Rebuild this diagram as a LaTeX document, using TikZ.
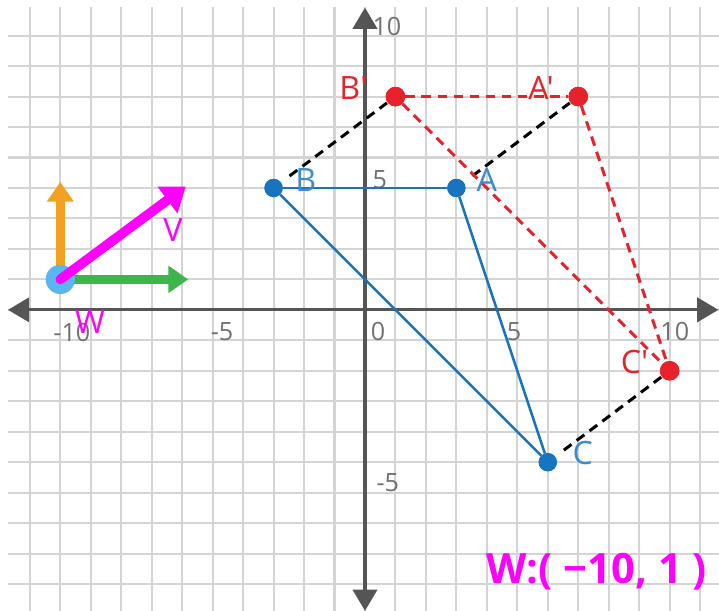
\documentclass[tikz,border=0pt]{standalone}
\usepackage{fontspec}
\setmainfont{Open Sans}
\newfontfamily\labfont{Open Sans}
\usetikzlibrary{arrows.meta}
\definecolor{gridc}{HTML}{D4D4D4}
\definecolor{axisc}{HTML}{555555}
\definecolor{tickc}{HTML}{707070}
\definecolor{bluec}{HTML}{1874BE}
\definecolor{bluel}{HTML}{3A8CD0}
\definecolor{redc}{HTML}{E8222B}
\definecolor{magc}{HTML}{FF00FF}
\definecolor{greenc}{HTML}{3DB54A}
\definecolor{orangec}{HTML}{F2A125}
\definecolor{lbluec}{HTML}{5AB6EE}
\tikzset{
  axisline/.style={axisc, line width=3pt, {Triangle[length=0.7cm,width=0.8cm]}-{Triangle[length=0.7cm,width=0.8cm]}},
  ticklab/.style={text=tickc, inner sep=0pt, font=\labfont\fontsize{23.5}{28}\selectfont},
  ptlab/.style={inner sep=0pt, font=\labfont\fontsize{30}{34}\selectfont},
  bdot/.style={circle, fill=bluec, minimum size=0.6cm, inner sep=0pt},
  rdot/.style={circle, fill=redc, minimum size=0.64cm, inner sep=0pt},
  bline/.style={bluec, line width=2.4pt},
  rdash/.style={redc, line width=2.8pt, dash pattern=on 9pt off 6pt},
  kdash/.style={black, line width=2.8pt, dash pattern=on 9pt off 6pt, shorten <=0.35cm, shorten >=0.02cm},
  vec/.style={line width=8pt, -{Triangle[length=0.65cm,width=0.85cm]}},
}
\begin{document}
\begin{tikzpicture}
\useasboundingbox (-11.98,-9.88) rectangle (11.62,10.17);
\fill[white] (-11.98,-9.88) rectangle (11.62,10.17);
\begin{scope}
\clip (-11.72,-9.88) rectangle (11.62,9.91);
\draw[gridc, line width=1.9pt] (-12,-10) grid (12,10);
\end{scope}
% axes
\coordinate (xl) at (-11.72,0);
\coordinate (xr) at (11.6,0);
\coordinate (yb) at (0,-9.88);
\coordinate (yt) at (0,9.92);
\draw[axisline] (xl) -- (xr);
\draw[axisline] (yb) -- (yt);
% tick labels
\node[ticklab] (tx1) at (-9.62,-0.74) {-10};
\node[ticklab] (tx2) at (-4.69,-0.72) {-5};
\node[ticklab] (tx3) at (0.43,-0.72) {0};
\node[ticklab] (tx4) at (4.89,-0.72) {5};
\node[ticklab] (tx5) at (10.17,-0.72) {10};
\node[ticklab] (ty1) at (0.72,9.29) {10};
\node[ticklab] (ty2) at (0.49,4.27) {5};
\node[ticklab] (ty3) at (0.75,-5.68) {-5};
% points
\node[bdot] (A) at (3,4) {};
\node[bdot] (B) at (-3,4) {};
\node[bdot] (C) at (6,-5) {};
\node[rdot] (A2) at (7,7) {};
\node[rdot] (B2) at (1,7) {};
\node[rdot] (C2) at (10,-2) {};
% translation segments
\draw[kdash] (B) -- (B2);
\draw[kdash] (A) -- (A2);
\draw[kdash] (C) -- (C2);
% triangles
\draw[rdash] (B2) -- (A2);
\draw[rdash] (B2) -- (C2);
\draw[rdash] (A2) -- (C2);
\draw[bline] (A) -- (B);
\draw[bline] (B) -- (C);
\draw[bline] (A) -- (C);
% redraw dots on top
\node[bdot] at (A) {};
\node[bdot] at (B) {};
\node[bdot] at (C) {};
\node[rdot] at (A2) {};
\node[rdot] at (B2) {};
\node[rdot] at (C2) {};
% point labels
\node[ptlab, text=bluel] (lA) at (4.0,4.27) {A};
\node[ptlab, text=bluel] (lB) at (-1.94,4.27) {B};
\node[ptlab, text=bluel] (lC) at (7.15,-4.69) {C};
\node[ptlab, text=redc] (lA2) at (5.78,7.29) {A'};
\node[ptlab, text=redc] (lB2) at (-0.38,7.29) {B'};
\node[ptlab, text=redc] (lC2) at (8.85,-1.71) {C'};
% vectors at W
\coordinate (W) at (-10,1);
\coordinate (Tg) at (-5.8,1);
\coordinate (To) at (-10,4.2);
\coordinate (Tm) at (-5.88,4.05);
\draw[vec, greenc] (W) -- (Tg);
\draw[vec, orangec] (W) -- (To);
\fill[lbluec] (W) circle (0.48);
\draw[vec, magc, line width=9pt, line cap=round, -{Triangle[length=0.75cm,width=1.05cm]}] (W) -- (Tm);
\node[ptlab, text=magc] (lV) at (-6.3,2.63) {V};
\node[ptlab, text=magc] (lW) at (-9.03,-0.39) {W};
\node[inner sep=0pt, text=magc, font=\labfont\bfseries\fontsize{39}{44}\selectfont] (wc) at (7.61,-8.6) {W:( −10, 1 )};
\end{tikzpicture}
\end{document}
